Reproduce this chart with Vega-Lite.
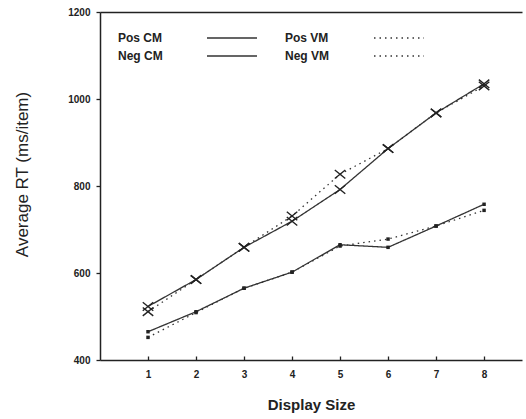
{
  "$schema": "https://vega.github.io/schema/vega-lite/v6.json",
  "autosize": {"type": "none"},
  "padding": {"left": 100, "top": 12, "right": 4, "bottom": 59},
  "width": 422,
  "height": 348,
  "background": "white",
  "config": {
    "view": {"stroke": null},
    "font": "Liberation Sans"
  },
  "data": {
    "values": [
      {"size": 1, "series": "Pos CM", "rt": 465},
      {"size": 2, "series": "Pos CM", "rt": 511},
      {"size": 3, "series": "Pos CM", "rt": 565},
      {"size": 4, "series": "Pos CM", "rt": 602},
      {"size": 5, "series": "Pos CM", "rt": 665},
      {"size": 6, "series": "Pos CM", "rt": 659},
      {"size": 7, "series": "Pos CM", "rt": 708},
      {"size": 8, "series": "Pos CM", "rt": 758},
      {"size": 1, "series": "Pos VM", "rt": 452},
      {"size": 2, "series": "Pos VM", "rt": 509},
      {"size": 3, "series": "Pos VM", "rt": 565},
      {"size": 4, "series": "Pos VM", "rt": 602},
      {"size": 5, "series": "Pos VM", "rt": 662},
      {"size": 6, "series": "Pos VM", "rt": 678},
      {"size": 7, "series": "Pos VM", "rt": 708},
      {"size": 8, "series": "Pos VM", "rt": 744},
      {"size": 1, "series": "Neg CM", "rt": 523},
      {"size": 2, "series": "Neg CM", "rt": 585},
      {"size": 3, "series": "Neg CM", "rt": 659},
      {"size": 4, "series": "Neg CM", "rt": 719},
      {"size": 5, "series": "Neg CM", "rt": 792},
      {"size": 6, "series": "Neg CM", "rt": 886},
      {"size": 7, "series": "Neg CM", "rt": 968},
      {"size": 8, "series": "Neg CM", "rt": 1035},
      {"size": 1, "series": "Neg VM", "rt": 511},
      {"size": 2, "series": "Neg VM", "rt": 585},
      {"size": 3, "series": "Neg VM", "rt": 659},
      {"size": 4, "series": "Neg VM", "rt": 731},
      {"size": 5, "series": "Neg VM", "rt": 827},
      {"size": 6, "series": "Neg VM", "rt": 886},
      {"size": 7, "series": "Neg VM", "rt": 968},
      {"size": 8, "series": "Neg VM", "rt": 1030}
    ]
  },
  "resolve": {"axis": {"x": "independent"}},
  "layer": [
    {
      "mark": {"type": "line", "color": "#333333", "strokeWidth": 1.3},
      "encoding": {
        "x": {
          "field": "size", "type": "quantitative",
          "scale": {"domain": [0, 8.79], "nice": false, "zero": false},
          "axis": {
            "title": "Display Size",
            "values": [1, 2, 3, 4, 5, 6, 7, 8],
            "grid": false,
            "domainColor": "#222222", "domainWidth": 1.5,
            "tickColor": "#222222", "tickSize": -4, "tickWidth": 1.3,
            "labelPadding": 13,
            "labelFont": "Liberation Sans", "labelFontWeight": "bold", "labelFontSize": 10, "labelColor": "#222222",
            "titleFont": "Liberation Sans", "titleFontWeight": "bold", "titleFontSize": 15, "titleColor": "#222222",
            "titlePadding": 18
          }
        },
        "y": {
          "field": "rt", "type": "quantitative",
          "scale": {"domain": [400, 1200], "nice": false, "zero": false},
          "axis": {
            "title": "Average RT (ms/item)",
            "values": [400, 600, 800, 1000, 1200],
            "format": "d",
            "grid": false,
            "domainColor": "#222222", "domainWidth": 1.5,
            "tickColor": "#222222", "tickSize": 4, "tickWidth": 1.3,
            "labelPadding": 6,
            "labelFont": "Liberation Sans", "labelFontWeight": "bold", "labelFontSize": 10, "labelColor": "#222222",
            "titleFont": "Liberation Sans", "titleFontWeight": "normal", "titleFontSize": 17, "titleColor": "#222222",
            "titlePadding": 36, "titleY": 162
          }
        },
        "detail": {"field": "series"},
        "strokeDash": {
          "field": "series", "type": "nominal",
          "scale": {"domain": ["Pos CM", "Pos VM", "Neg CM", "Neg VM"], "range": [[1, 0], [1.5, 4], [1, 0], [1.5, 4]]},
          "legend": {
            "title": null,
            "orient": "none", "legendX": 126, "legendY": 20,
            "direction": "horizontal", "columns": 2, "columnPadding": 25, "rowPadding": 6,
            "symbolType": "M-5,0L5,0", "symbolSize": 100, "symbolStrokeColor": "#333333", "symbolFillColor": "transparent", "symbolStrokeWidth": 1.3,
            "labelAlign": "left", "labelOffset": -120,
            "labelFont": "Liberation Sans", "labelFontWeight": "bold", "labelFontSize": 12, "labelColor": "#222222"
          }
        }
      }
    },
    {
      "transform": [{"filter": "indexof(datum.series, 'Pos') === 0"}],
      "mark": {"type": "point", "shape": "square", "filled": true, "color": "#222222", "size": 12, "opacity": 1},
      "encoding": {
        "x": {"field": "size", "type": "quantitative", "axis": null},
        "y": {"field": "rt", "type": "quantitative"}
      }
    },
    {
      "transform": [{"filter": "indexof(datum.series, 'Neg') === 0"}],
      "mark": {"type": "point", "shape": "M-1,-0.8L1,0.8M-1,0.8L1,-0.8", "filled": false, "color": "#222222", "size": 110, "strokeWidth": 1.4, "opacity": 1},
      "encoding": {
        "x": {
          "field": "size", "type": "quantitative",
          "axis": {"orient": "top", "title": null, "labels": false, "ticks": false, "grid": false, "domainColor": "#222222", "domainWidth": 1.3}
        },
        "y": {"field": "rt", "type": "quantitative"}
      }
    }
  ]
}
